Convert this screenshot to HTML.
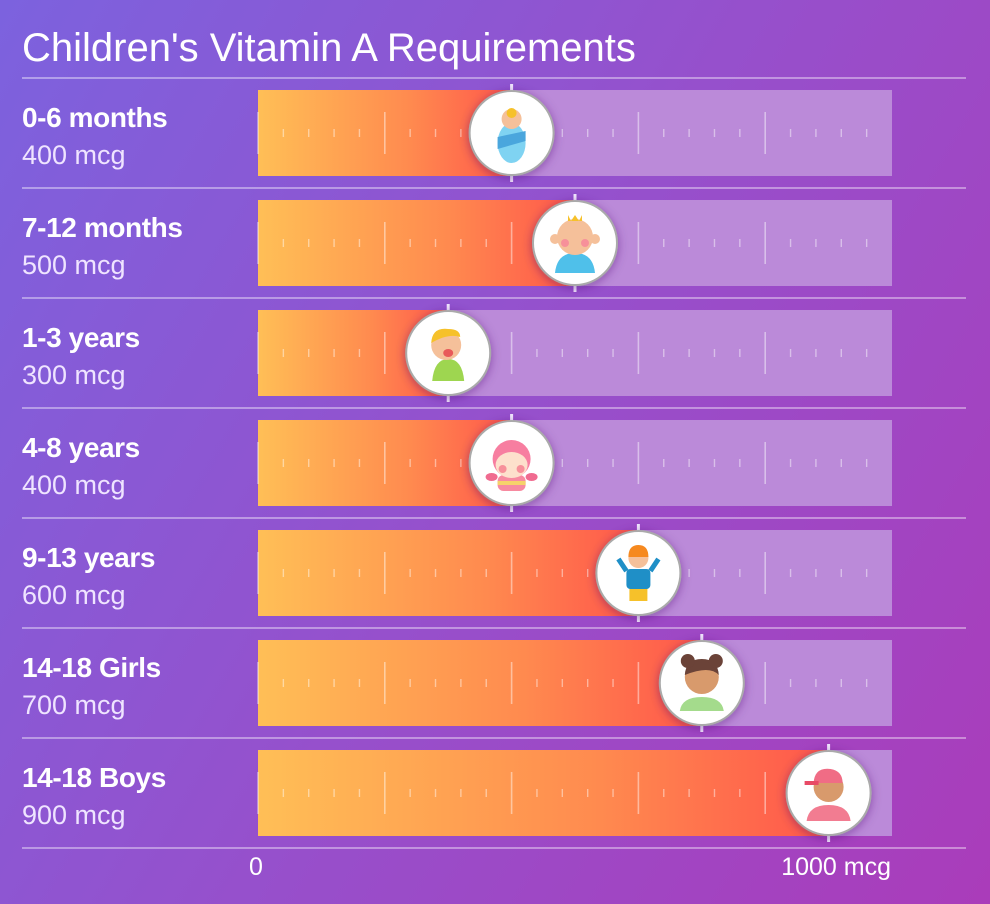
<!DOCTYPE html>
<html><head><meta charset="utf-8">
<style>
html,body{margin:0;padding:0;width:990px;height:904px;overflow:hidden;}
body{background:linear-gradient(120deg,#7c62de 0%,#9650cc 50%,#aa3cba 100%);font-family:"Liberation Sans",sans-serif;}
svg{position:absolute;left:0;top:0;}
</style></head>
<body>
<svg id="chart" width="990" height="904">
<defs>
<linearGradient id="fillg" x1="0" y1="0" x2="1" y2="0">
<stop offset="0" stop-color="#ffbf56"/><stop offset="0.6" stop-color="#ff8a4f"/><stop offset="1" stop-color="#ff574b"/>
</linearGradient>
<filter id="sh" x="-50%" y="-50%" width="200%" height="200%"><feDropShadow dx="0" dy="2" stdDeviation="5" flood-color="#4a1a70" flood-opacity="0.45"/></filter>
</defs>
<text x="22" y="61" font-size="40" fill="#fff">Children's Vitamin A Requirements</text>
<g id="rows"></g>
<text x="256" y="875" font-size="25" fill="#fff" text-anchor="middle">0</text>
<text x="891" y="875" font-size="25" fill="#fff" text-anchor="end">1000 mcg</text>
</svg>
<script>
const categories=["0-6 months","7-12 months","1-3 years","4-8 years","9-13 years","14-18 Girls","14-18 Boys"];
const values=[400,500,300,400,600,700,900];
const valueLabels=["400 mcg","500 mcg","300 mcg","400 mcg","600 mcg","700 mcg","900 mcg"];
const maxValue=1000;
const NS="http://www.w3.org/2000/svg";
const X0=258,X1=892,ROW0=78,RH=110;
const xs=v=>X0+(v/maxValue)*(X1-X0);
function el(tag,attrs,parent){const e=document.createElementNS(NS,tag);for(const k in attrs)e.setAttribute(k,attrs[k]);parent.appendChild(e);return e;}
const rows=document.getElementById('rows');
const skin="#f5c09a";
const icons=[
 g=>{el('ellipse',{cx:0,cy:10,rx:14,ry:20,fill:'#7fd3f2'},g);el('path',{d:'M-14 4 L14 -2 L14 8 L-14 16Z',fill:'#4aa6dd'},g);el('circle',{cx:0,cy:-14,r:10,fill:skin},g);el('circle',{cx:0,cy:-20,r:5,fill:'#f6c12a'},g);},
 g=>{el('path',{d:'M-20 30 Q-18 10 0 10 Q18 10 20 30Z',fill:'#4fc0ea'},g);el('circle',{cx:0,cy:-6,r:18,fill:skin},g);el('circle',{cx:-20,cy:-4,r:5,fill:skin},g);el('circle',{cx:20,cy:-4,r:5,fill:skin},g);el('circle',{cx:-10,cy:0,r:4,fill:'#f7909a'},g);el('circle',{cx:10,cy:0,r:4,fill:'#f7909a'},g);el('path',{d:'M-7 -28 L-4 -22 L0 -28 L4 -22 L7 -28 L7 -22 L-7 -22Z',fill:'#f6c12a'},g);},
 g=>{el('path',{d:'M-16 28 Q-14 6 0 6 Q14 6 16 28Z',fill:'#9ed650'},g);el('circle',{cx:-2,cy:-8,r:15,fill:skin},g);el('path',{d:'M-17 -10 Q-16 -26 0 -24 Q12 -24 12 -16 Q0 -20 -17 -10Z',fill:'#f6c12a'},g);el('ellipse',{cx:0,cy:0,rx:5,ry:4,fill:'#e85a5a'},g);},
 g=>{el('rect',{x:-14,y:12,width:28,height:16,rx:6,fill:'#f78aa0'},g);el('rect',{x:-14,y:18,width:28,height:4,fill:'#f6d26a'},g);el('circle',{cx:0,cy:-4,r:19,fill:'#f77ea0'},g);el('ellipse',{cx:0,cy:2,rx:16,ry:13,fill:'#fde0cc'},g);el('circle',{cx:-9,cy:6,r:4,fill:'#f7909a'},g);el('circle',{cx:9,cy:6,r:4,fill:'#f7909a'},g);el('ellipse',{cx:-20,cy:14,rx:6,ry:4,fill:'#f06b90'},g);el('ellipse',{cx:20,cy:14,rx:6,ry:4,fill:'#f06b90'},g);},
 g=>{el('rect',{x:-9,y:14,width:18,height:14,fill:'#f6c12a'},g);el('rect',{x:-12,y:-4,width:24,height:20,rx:4,fill:'#1f8fc7'},g);el('path',{d:'M-12 -2 L-20 -14 M12 -2 L20 -14',stroke:'#1f8fc7','stroke-width':5},g);el('circle',{cx:0,cy:-15,r:10,fill:skin},g);el('path',{d:'M-10 -16 Q-10 -28 0 -28 Q10 -28 10 -16Z',fill:'#f6891f'},g);},
 g=>{el('path',{d:'M-22 28 Q-20 14 0 14 Q20 14 22 28Z',fill:'#a4db8c'},g);el('circle',{cx:0,cy:-6,r:17,fill:'#d89a6c'},g);el('path',{d:'M-17 -8 Q-16 -24 0 -24 Q16 -24 17 -8 Q8 -18 -17 -8Z',fill:'#6b4338'},g);el('circle',{cx:-14,cy:-22,r:7,fill:'#6b4338'},g);el('circle',{cx:14,cy:-22,r:7,fill:'#6b4338'},g);},
 g=>{el('path',{d:'M-22 28 Q-20 12 0 12 Q20 12 22 28Z',fill:'#f27c91'},g);el('circle',{cx:0,cy:-6,r:15,fill:'#d89a6c'},g);el('path',{d:'M-15 -10 Q-14 -26 2 -24 Q14 -22 14 -10Z',fill:'#f06c85'},g);el('rect',{x:-24,y:-12,width:14,height:4,fill:'#e84a66'},g);}
];
categories.forEach((c,i)=>{
 const top=ROW0+i*RH, by=top+12, bh=86, cy=by+bh/2;
 const g=el('g',{},rows);
 
 
 const lab=el('text',{x:22,y:top+49,'font-size':28,'font-weight':'bold',fill:'#fff','letter-spacing':'-0.4'},g);lab.textContent=c;
 
 
 const vl=el('text',{x:22,y:top+86,'font-size':27,fill:'#efe4ff'},g);vl.textContent=valueLabels[i];
 
 
 const tr=el('rect',{x:X0,y:by,width:X1-X0,height:bh,fill:'#bb8ad9'},g);
 
 
 const vx=xs(values[i]);
 const f=el('rect',{x:X0,y:by,width:vx-X0,height:bh,fill:'url(#fillg)'},g);
 
 
 for(let t=0;t<=maxValue;t+=40){
  const tx=xs(t); if(t===maxValue) continue;
  const major=t%200===0;
  el('line',{x1:tx,x2:tx,y1:major?cy-21:cy-4,y2:major?cy+21:cy+4,stroke:'rgba(255,255,255,0.45)','stroke-width':major?1.6:1.4},g);
 }
 el('line',{x1:vx,x2:vx,y1:by-6,y2:by+bh+6,stroke:'#f2e8ff','stroke-width':3},g);
 const c1=el('circle',{cx:vx,cy:cy,r:42,fill:'#fff',stroke:'#aaa','stroke-width':2,filter:'url(#sh)'},g);
 
 
 const ig=el('g',{transform:`translate(${vx},${cy})`},g);
 
 
 icons[i](ig);
 el('line',{x1:22,x2:966,y1:top,y2:top,stroke:'rgba(255,255,255,0.4)','stroke-width':2},rows);
});
el('line',{x1:22,x2:966,y1:ROW0+7*RH,y2:ROW0+7*RH,stroke:'rgba(255,255,255,0.4)','stroke-width':2},rows);
</script>
</body></html>
